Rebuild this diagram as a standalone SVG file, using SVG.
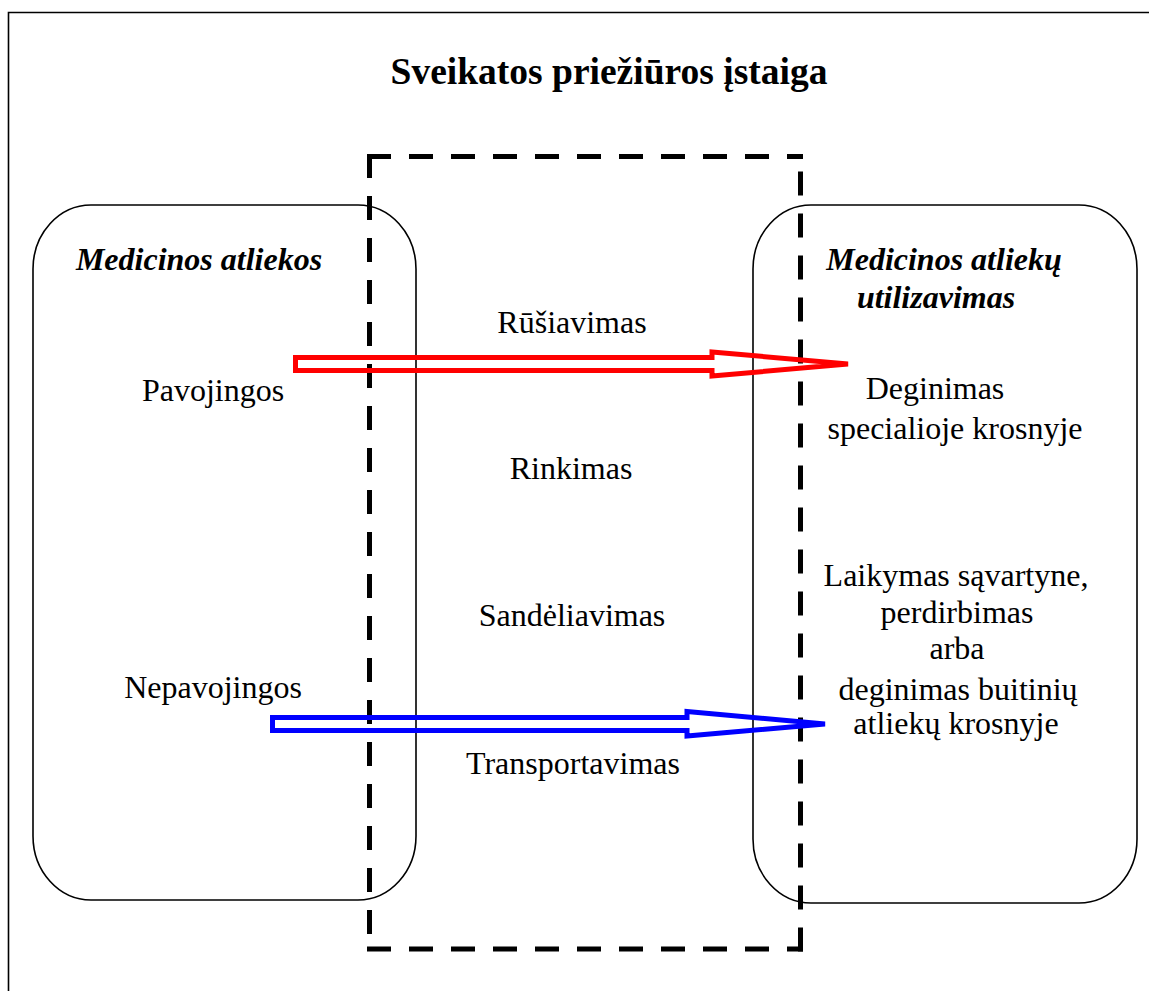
<svg xmlns="http://www.w3.org/2000/svg" width="1149" height="991" viewBox="0 0 1149 991">
<style>
text{font-family:"Liberation Serif","Times New Roman",serif;fill:#000;font-size:32px;text-anchor:middle}
.title{font-size:37.5px;font-weight:bold}
.hd{font-weight:bold;font-style:italic}
.box{fill:none;stroke:#000;stroke-width:1.6}
.dash{fill:none;stroke:#000;stroke-width:5;stroke-dasharray:24 18}
.arr{fill:none;stroke-width:5;stroke-linejoin:miter}
</style>
<rect width="1149" height="991" fill="#fff"/>
<g id="frame"><path d="M8.5,995 V12.5 H1155" fill="none" stroke="#000" stroke-width="1.6"/></g>
<g id="title"><text class="title" x="609" y="84">Sveikatos priežiūros įstaiga</text></g>
<g id="institution">
<line class="dash" x1="369.5" y1="154" x2="369.5" y2="951.5"/>
<line class="dash" x1="367" y1="156.5" x2="803" y2="156.5"/>
<line class="dash" x1="367" y1="949" x2="803" y2="949"/>
<line class="dash" x1="800.5" y1="951.5" x2="800.5" y2="154"/>
</g>
<g id="waste">
<rect class="box" x="33" y="205" width="383" height="695" rx="58" ry="64"/>
<text class="hd" x="199" y="270">Medicinos atliekos</text>
<text x="213" y="401">Pavojingos</text>
<text x="213" y="698">Nepavojingos</text>
</g>
<g id="disposal">
<rect class="box" x="753" y="205" width="384" height="698" rx="58" ry="64"/>
<text class="hd" x="944" y="270">Medicinos atliekų</text>
<text class="hd" x="936" y="308">utilizavimas</text>
<text x="935" y="399">Deginimas</text>
<text x="955" y="439">specialioje krosnyje</text>
<text x="956" y="586">Laikymas sąvartyne,</text>
<text x="957" y="623">perdirbimas</text>
<text x="957" y="659">arba</text>
<text x="958" y="700">deginimas buitinių</text>
<text x="956" y="734">atliekų krosnyje</text>
</g>
<g id="steps">
<text x="572" y="333">Rūšiavimas</text>
<text x="571" y="479">Rinkimas</text>
<text x="572" y="626">Sandėliavimas</text>
<text x="573" y="774">Transportavimas</text>
</g>
<g id="connectors">
<path class="arr" stroke="#FF0000" d="M295.5,357.5 H712 V352 L848,364 L712,376 V370.5 H295.5 Z"/>
<path class="arr" stroke="#0000FF" d="M272.5,717.5 H687 V711.5 L825,724 L687,736 V730.5 H272.5 Z"/>
</g>
</svg>
